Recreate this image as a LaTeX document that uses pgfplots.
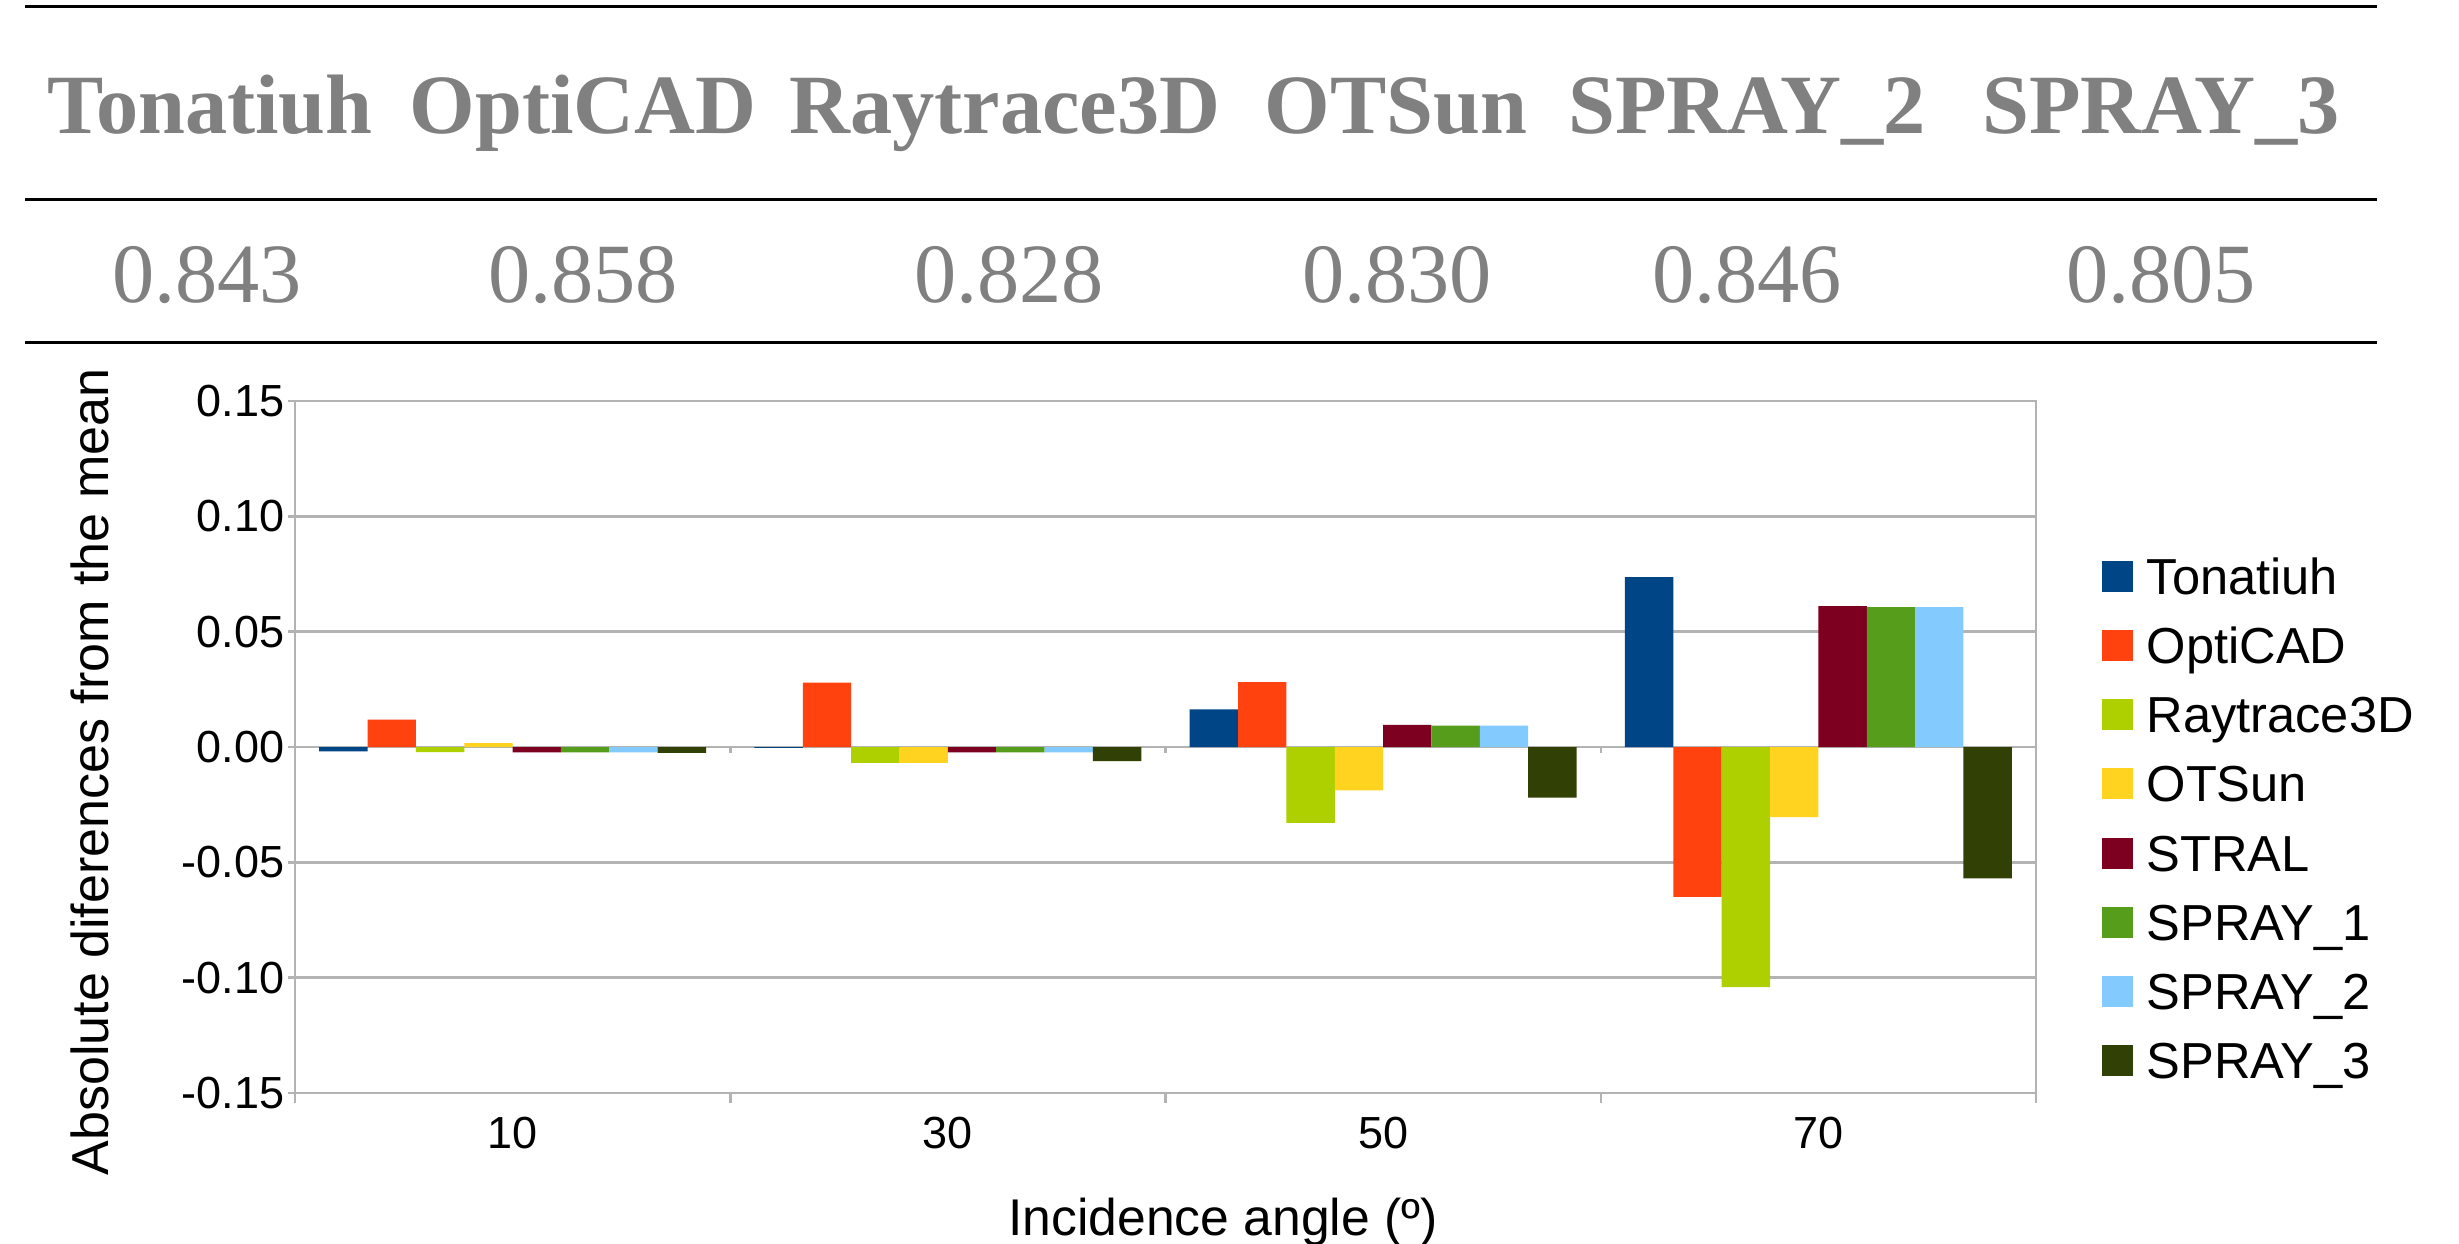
\documentclass[border=0pt]{standalone}
\usepackage{pgfplots}
\pgfplotsset{compat=1.18}
\usepackage{fontspec}
\setmainfont{Liberation Sans}
\newfontfamily\seriffont{Liberation Serif}
\definecolor{cTon}{HTML}{004586}
\definecolor{cOpt}{HTML}{FF420E}
\definecolor{cRay}{HTML}{AECF00}
\definecolor{cOTS}{HTML}{FFD320}
\definecolor{cSTR}{HTML}{7E0021}
\definecolor{cSP1}{HTML}{579D1C}
\definecolor{cSP2}{HTML}{83CAFF}
\definecolor{cSP3}{HTML}{314004}
\definecolor{hdr}{HTML}{808080}
\definecolor{gridc}{HTML}{B3B3B3}
\begin{document}
\begin{tikzpicture}
\useasboundingbox (0,0) rectangle (245.9mm,-124.3mm);
% table above the chart
\draw[line width=0.3mm] (2.5mm,-0.6mm) -- (237.7mm,-0.6mm);
\draw[line width=0.3mm] (2.5mm,-19.9mm) -- (237.7mm,-19.9mm);
\draw[line width=0.3mm] (2.5mm,-34.2mm) -- (237.7mm,-34.2mm);
\begin{scope}[every node/.style={anchor=base, text=hdr, inner sep=0pt, font=\seriffont\bfseries\fontsize{24pt}{28pt}\selectfont}]
\node at (21.0mm,-13.3mm) {Tonatiuh};
\node at (58.3mm,-13.3mm) {OptiCAD};
\node at (100.5mm,-13.3mm) {Raytrace3D};
\node at (139.6mm,-13.3mm) {OTSun};
\node at (174.7mm,-13.3mm) {SPRAY\_2};
\node at (216.1mm,-13.3mm) {SPRAY\_3};
\end{scope}
\begin{scope}[every node/.style={anchor=base, text=hdr, inner sep=0pt, font=\seriffont\fontsize{24pt}{28pt}\selectfont}]
\node at (20.7mm,-30.2mm) {0.843};
\node at (58.3mm,-30.2mm) {0.858};
\node at (100.9mm,-30.2mm) {0.828};
\node at (139.7mm,-30.2mm) {0.830};
\node at (174.7mm,-30.2mm) {0.846};
\node at (216.1mm,-30.2mm) {0.805};
\end{scope}
\begin{axis}[
  at={(29.5mm,-109.3mm)}, anchor=south west,
  scale only axis, width=174.1mm, height=69.2mm,
  xmin=-0.5, xmax=3.5, ymin=-0.15, ymax=0.15,
  ybar, bar width=0.111111,
  xtick={0,1,2,3}, xticklabels={10,30,50,70},
  minor xtick={-0.5,0.5,1.5,2.5,3.5},
  ytick={-0.15,-0.1,-0.05,0,0.05,0.1,0.15},
  yticklabels={-0.15,-0.10,-0.05,0.00,0.05,0.10,0.15},
  xtick pos=bottom, ytick pos=left,
  tick align=outside,
  major tick length=0.7mm, minor tick length=1.0mm,
  every major x tick/.append style={draw=none},
  every tick/.append style={gridc, line width=0.25mm},
  axis line style={gridc, line width=0.25mm},
  ymajorgrids, grid style={gridc, line width=0.25mm},
  tick label style={font=\fontsize{12.8pt}{14pt}\selectfont, inner sep=0pt},
  yticklabel style={anchor=east, xshift=-0.3mm},
  xticklabel style={anchor=north, yshift=-1.6mm},
  xlabel={Incidence angle (º)},
  ylabel={Absolute diferences from the mean},
  every axis x label/.style={at={(axis description cs:0.533,-0.187)}, anchor=center,
    inner sep=0pt, font=\fontsize{14.7pt}{16pt}\selectfont},
  every axis y label/.style={at={(axis description cs:-0.118,0.464)}, anchor=center, rotate=90,
    inner sep=0pt, font=\fontsize{14.8pt}{16pt}\selectfont},
  legend cell align=left,
  legend image code/.code={\fill[#1] (0mm,-1.55mm) rectangle (3.1mm,1.55mm);},
  legend style={at={(axis description cs:1.0373,0.3967)}, anchor=west,
    draw=none, fill=none, inner sep=0pt, row sep=2.32mm, column sep=1.4mm,
    font=\fontsize{14.4pt}{16pt}\selectfont,
    nodes={inner sep=0pt, text height=4.1mm, text depth=0.5mm}},
]
\addplot[fill=cTon, draw=none, bar shift=-0.388889] coordinates {(0,-0.0019) (1,-0.0004) (2,0.0163) (3,0.0737)};
\addplot[fill=cOpt, draw=none, bar shift=-0.277778] coordinates {(0,0.0119) (1,0.0279) (2,0.0281) (3,-0.0650)};
\addplot[fill=cRay, draw=none, bar shift=-0.166667] coordinates {(0,-0.0022) (1,-0.0069) (2,-0.0329) (3,-0.1041)};
\addplot[fill=cOTS, draw=none, bar shift=-0.055556] coordinates {(0,0.0017) (1,-0.0069) (2,-0.0188) (3,-0.0304)};
\addplot[fill=cSTR, draw=none, bar shift=0.055556] coordinates {(0,-0.0023) (1,-0.0023) (2,0.0096) (3,0.0611)};
\addplot[fill=cSP1, draw=none, bar shift=0.166667] coordinates {(0,-0.0023) (1,-0.0023) (2,0.0093) (3,0.0607)};
\addplot[fill=cSP2, draw=none, bar shift=0.277778] coordinates {(0,-0.0023) (1,-0.0023) (2,0.0093) (3,0.0607)};
\addplot[fill=cSP3, draw=none, bar shift=0.388889] coordinates {(0,-0.0025) (1,-0.0061) (2,-0.0219) (3,-0.0569)};
\legend{Tonatiuh,OptiCAD,Raytrace3D,OTSun,STRAL,SPRAY\_1,SPRAY\_2,SPRAY\_3}
\draw[gridc, line width=0.25mm] (axis cs:0.5,0) -- ([yshift=-0.6mm]axis cs:0.5,0);
\draw[gridc, line width=0.25mm] (axis cs:1.5,0) -- ([yshift=-0.6mm]axis cs:1.5,0);
\draw[gridc, line width=0.25mm] (axis cs:2.5,0) -- ([yshift=-0.6mm]axis cs:2.5,0);
\end{axis}
\end{tikzpicture}
\end{document}
